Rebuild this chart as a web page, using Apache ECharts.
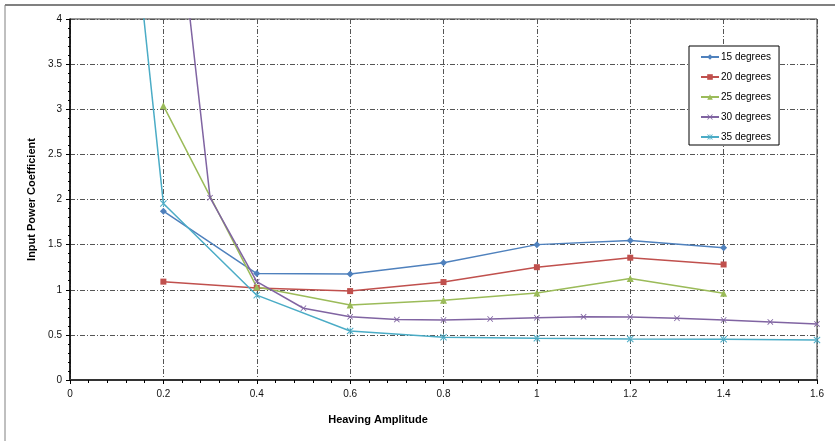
<!DOCTYPE html>
<html>
<head>
<meta charset="utf-8">
<script src="https://cdn.jsdelivr.net/npm/echarts@6/dist/echarts.min.js"></script>
<style>
  html, body { margin: 0; padding: 0; background: #fff; }
  #chart { width: 835px; height: 441px; }
</style>
</head>
<body>
<div id="chart"></div>
<script>
// Heaving amplitude positions for each pitch angle
const amp15 = [0.2, 0.4, 0.6, 0.8, 1.0, 1.2, 1.4];
const amp20 = [0.2, 0.4, 0.6, 0.8, 1.0, 1.2, 1.4];
const amp25 = [0.2, 0.4, 0.6, 0.8, 1.0, 1.2, 1.4];
const amp30 = [0.2, 0.3, 0.4, 0.5, 0.6, 0.7, 0.8, 0.9, 1.0, 1.1, 1.2, 1.3, 1.4, 1.5, 1.6];
const amp35 = [0.1, 0.2, 0.4, 0.6, 0.8, 1.0, 1.2, 1.4, 1.6];

// Input power coefficient values
const cp15 = [1.87, 1.18, 1.175, 1.30, 1.50, 1.545, 1.465];
const cp20 = [1.09, 1.02, 0.985, 1.085, 1.25, 1.355, 1.28];
const cp25 = [3.04, 1.03, 0.83, 0.885, 0.965, 1.125, 0.96];
const cp30 = [6.64, 2.02, 1.09, 0.795, 0.70, 0.67, 0.665, 0.676, 0.69, 0.70, 0.698, 0.684, 0.665, 0.643, 0.621];
const cp35 = [6.87, 1.955, 0.94, 0.543, 0.473, 0.462, 0.455, 0.451, 0.443];

const seriesNames = ['15 degrees', '20 degrees', '25 degrees', '30 degrees', '35 degrees'];
const xTicks = { min: 0, max: 1.6, step: 0.2 };
const yTicks = { min: 0, max: 4, step: 0.5 };

const colors = ['#4F81BD', '#C0504D', '#9BBB59', '#8064A2', '#4BACC6'];
const crossPath = 'path://M0,1 L1,0 L5,4 L9,0 L10,1 L6,5 L10,9 L9,10 L5,6 L1,10 L0,9 L4,5 Z';
const starPath = 'path://M0,1 L1,0 L5,4 L9,0 L10,1 L6,5 L10,9 L9,10 L5,6 L1,10 L0,9 L4,5 Z M4.4,0 L4.4,10 L5.6,10 L5.6,0 Z';
const symbols = [
  { symbol: 'diamond', size: 7 },
  { symbol: 'rect', size: 6 },
  { symbol: 'triangle', size: 7 },
  { symbol: crossPath, size: 6 },
  { symbol: starPath, size: 7 }
];

const xs = [amp15, amp20, amp25, amp30, amp35];
const ys = [cp15, cp20, cp25, cp30, cp35];

const pair = (a, b) => a.map((v, i) => [v, b[i]]);

const font = 'Liberation Sans, Arial, sans-serif';
const gridLine = { show: true, lineStyle: { color: '#555', width: 1, type: [5, 2, 1, 2] } };

const chart = echarts.init(document.getElementById('chart'), null, { renderer: 'canvas' });
chart.setOption({
  animation: false,
  backgroundColor: '#fff',
  color: colors,
  grid: {
    left: 70, right: 18, top: 19, bottom: 61,
    show: true, borderColor: '#333', borderWidth: 1
  },
  legend: {
    orient: 'vertical',
    left: 689, top: 46,
    padding: [5, 8, 2, 11],
    itemWidth: 18, itemHeight: 7, itemGap: 8,
    backgroundColor: '#fff',
    borderColor: '#000', borderWidth: 1, borderRadius: 0,
    textStyle: { fontFamily: font, fontSize: 10, color: '#000', lineHeight: 12, padding: [0, 0, 0, -3] },
    data: seriesNames
  },
  xAxis: {
    type: 'value',
    min: xTicks.min, max: xTicks.max, interval: xTicks.step,
    axisLine: { show: true, onZero: false, lineStyle: { color: '#333', width: 2 } },
    axisTick: { show: true, length: 4, lineStyle: { color: '#000' } },
    minorTick: { show: true, splitNumber: 5, length: 3, lineStyle: { color: '#000' } },
    axisLabel: { fontFamily: font, fontSize: 10, color: '#111', margin: 9 },
    splitLine: gridLine
  },
  yAxis: {
    type: 'value',
    min: yTicks.min, max: yTicks.max, interval: yTicks.step,
    name: 'Input Power Coefficient',
    nameLocation: 'middle',
    nameGap: 22,
    nameTextStyle: { fontFamily: font, fontSize: 11, fontWeight: 'bold', color: '#000' },
    axisLine: { show: true, onZero: false, lineStyle: { color: '#000', width: 1.5 } },
    axisTick: { show: true, length: 4, lineStyle: { color: '#000' } },
    minorTick: { show: true, splitNumber: 5, length: 2, lineStyle: { color: '#000' } },
    axisLabel: { fontFamily: font, fontSize: 10, color: '#111', margin: 8 },
    splitLine: gridLine
  },
  graphic: [
    { type: 'line', shape: { x1: 5, y1: 5, x2: 835, y2: 5 }, style: { stroke: '#808080', lineWidth: 2 }, silent: true },
    { type: 'line', shape: { x1: 5, y1: 5, x2: 5, y2: 441 }, style: { stroke: '#808080', lineWidth: 1 }, silent: true },
    {
      type: 'text', x: 378, y: 414, silent: true,
      style: { text: 'Heaving Amplitude', font: 'bold 11px ' + font, fill: '#000', align: 'center', verticalAlign: 'top' }
    }
  ],
  series: seriesNames.map((name, i) => ({
    name,
    type: 'line',
    data: pair(xs[i], ys[i]),
    symbol: symbols[i].symbol,
    symbolSize: symbols[i].size,
    showAllSymbol: true,
    clip: true,
    lineStyle: { width: 1.5, color: colors[i] },
    itemStyle: { color: colors[i] }
  }))
});
</script>
</body>
</html>
